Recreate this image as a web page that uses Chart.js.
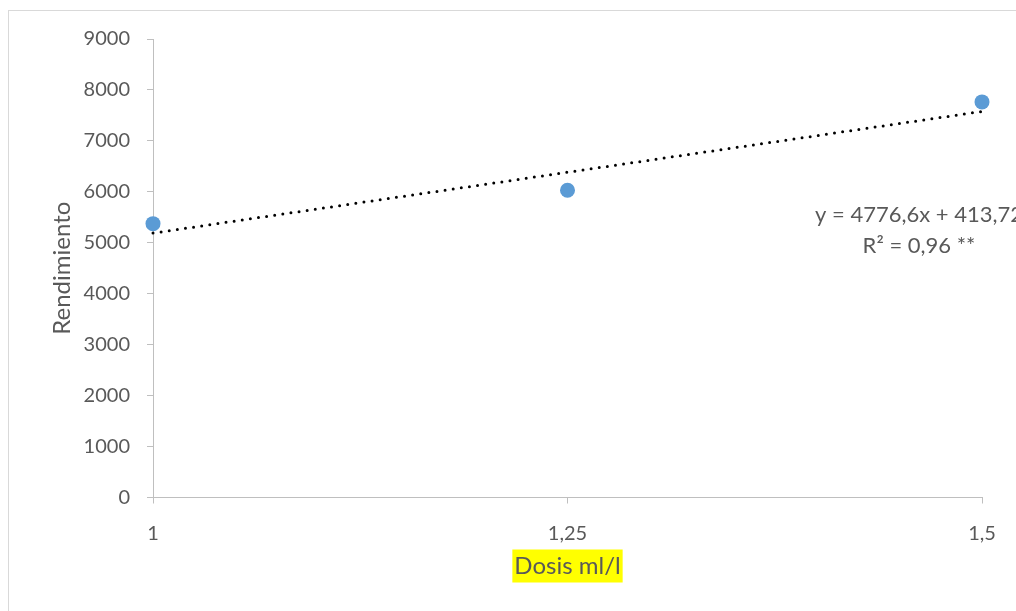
<!DOCTYPE html>
<html lang="es">
<head>
<meta charset="utf-8">
<title>Rendimiento según dosis</title>
<script src="https://cdn.jsdelivr.net/npm/chart.js@4/dist/chart.umd.min.js"></script>
<style>
  html, body { margin: 0; padding: 0; background: #ffffff; }
  canvas { display: block; }
</style>
</head>
<body>
<canvas id="chart" width="1016" height="611"></canvas>
<script>
// Observed yield for each dose
const doses = [1, 1.25, 1.5];
const yields = [5375, 6030, 7765];

// Axis ticks
const xTickValues = [1, 1.25, 1.5];
const xTickLabels = ['1', '1,25', '1,5'];
const yTickValues = [0, 1000, 2000, 3000, 4000, 5000, 6000, 7000, 8000, 9000];
const yTickLabels = ['0', '1000', '2000', '3000', '4000', '5000', '6000', '7000', '8000', '9000'];

// Linear trend line and its annotation
const trendSlope = 4776.6;
const trendIntercept = 413.72;
const trendRange = [1, 1.5];
const trendLabelLines = ['y = 4776,6x + 413,72', 'R\u00B2 = 0,96 **'];

const axisTitleX = 'Dosis ml/l';
const axisTitleY = 'Rendimiento';

const FONT = 'Lato, "Open Sans", sans-serif';
const TEXT = '#595959';
const AXIS = '#bfbfbf';

const points = doses.map((d, i) => ({ x: d, y: yields[i] }));
const trendPoints = trendRange.map(x => ({ x: x, y: trendSlope * x + trendIntercept }));

// Frame around the chart plus the highlight behind the x-axis title
const framePlugin = {
  id: 'frame',
  beforeDraw(chart) {
    const ctx = chart.ctx;
    ctx.save();
    ctx.fillStyle = '#ffffff';
    ctx.fillRect(0, 0, chart.width, chart.height);
    ctx.strokeStyle = '#d9d9d9';
    ctx.lineWidth = 1;
    ctx.strokeRect(8.5, 10.5, chart.width + 20, chart.height + 20);

    const xs = chart.scales.x;
    const t = xs.options.title;
    const size = t.font.size;
    ctx.font = size + 'px ' + FONT;
    const w = ctx.measureText(axisTitleX).width;
    const lh = size * t.font.lineHeight;
    const cy = xs.bottom - (lh / 2 + t.padding.bottom);
    const cx = (chart.chartArea.left + chart.chartArea.right) / 2;
    ctx.fillStyle = '#ffff00';
    ctx.fillRect(cx - w / 2 - 2, cy - 16.5, w + 4, 33);
    ctx.restore();
  }
};

// Trend equation text
const equationPlugin = {
  id: 'equation',
  afterDraw(chart) {
    const ctx = chart.ctx;
    ctx.save();
    ctx.font = '22px ' + FONT;
    ctx.fillStyle = TEXT;
    ctx.textAlign = 'center';
    ctx.textBaseline = 'alphabetic';
    const cx = 919;
    ctx.fillText(trendLabelLines[0], cx, 222);
    ctx.fillText(trendLabelLines[1], cx, 253);
    ctx.restore();
  }
};

new Chart(document.getElementById('chart'), {
  type: 'scatter',
  data: {
    datasets: [
      {
        label: 'Rendimiento',
        data: points,
        backgroundColor: '#5b9bd5',
        borderColor: '#5b9bd5',
        pointRadius: 7.5,
        pointHoverRadius: 7.5,
        pointBorderWidth: 0,
        showLine: false,
        clip: false
      },
      {
        label: 'Lineal',
        type: 'line',
        data: trendPoints,
        borderColor: '#000000',
        borderWidth: 3,
        borderDash: [0, 8.2],
        borderCapStyle: 'round',
        pointRadius: 0,
        fill: false,
        tension: 0,
        clip: false
      }
    ]
  },
  options: {
    responsive: false,
    animation: false,
    devicePixelRatio: 1,
    layout: { padding: { left: 0, top: 39, right: 34, bottom: 0 } },
    plugins: {
      legend: { display: false },
      tooltip: { enabled: false },
      title: { display: false }
    },
    scales: {
      x: {
        type: 'linear',
        min: 1,
        max: 1.5,
        afterBuildTicks(scale) {
          scale.ticks = xTickValues.map(v => ({ value: v }));
        },
        afterFit(scale) { scale.height = 113.5; },
        ticks: {
          color: TEXT,
          font: { family: FONT, size: 20 },
          padding: 18,
          maxRotation: 0,
          autoSkip: false,
          callback(value) {
            const i = xTickValues.indexOf(value);
            return i >= 0 ? xTickLabels[i] : '';
          }
        },
        grid: { drawOnChartArea: false, drawTicks: true, tickLength: 6, color: AXIS, lineWidth: 1 },
        border: { display: true, color: AXIS, width: 1 },
        title: {
          display: true,
          text: axisTitleX,
          color: TEXT,
          font: { family: FONT, size: 24, lineHeight: 1.2 },
          padding: { top: 0, bottom: 30.6 }
        }
      },
      y: {
        type: 'linear',
        min: 0,
        max: 9000,
        afterBuildTicks(scale) {
          scale.ticks = yTickValues.map(v => ({ value: v }));
        },
        afterFit(scale) { scale.width = 153; },
        ticks: {
          color: TEXT,
          font: { family: FONT, size: 20 },
          padding: 17,
          autoSkip: false,
          callback(value) {
            const i = yTickValues.indexOf(value);
            return i >= 0 ? yTickLabels[i] : '';
          }
        },
        grid: { drawOnChartArea: false, drawTicks: true, tickLength: 6, color: AXIS, lineWidth: 1 },
        border: { display: true, color: AXIS, width: 1 },
        title: {
          display: true,
          text: axisTitleY,
          color: TEXT,
          font: { family: FONT, size: 24, lineHeight: 1.2 },
          padding: { top: 47.6, bottom: 0 }
        }
      }
    }
  },
  plugins: [framePlugin, equationPlugin]
});
</script>
</body>
</html>
